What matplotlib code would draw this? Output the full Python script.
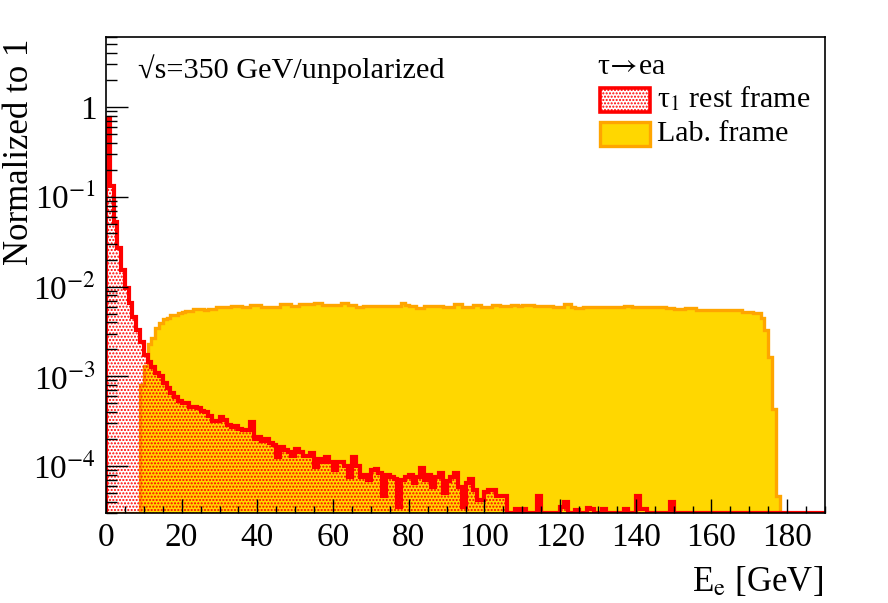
import numpy as np
import matplotlib
matplotlib.use('Agg')
import matplotlib.pyplot as plt
from matplotlib.patches import Rectangle
from matplotlib.ticker import FixedLocator, FixedFormatter, MultipleLocator, LogLocator, NullFormatter

plt.rcParams['font.family'] = ['Liberation Serif', 'DejaVu Serif']
plt.rcParams['mathtext.fontset'] = 'stix'
plt.rcParams['hatch.linewidth'] = 1.0

# 1 GeV bins from 0 to 190
bin_edges = np.arange(0, 191, 1)

# tau_1 rest frame (normalised to 1)
rest_frame = [
    0.75, 0.133, 0.053, 0.027, 0.0153, 0.0096, 0.0065, 0.0046, 0.0033, 0.0024,
    1.75e-3, 1.45e-3, 1.28e-3, 1.1e-3, 1.0e-3, 8.5e-4, 7.4e-4, 6.5e-4, 5.9e-4, 5.3e-4,
    5.0e-4, 5.0e-4, 4.6e-4, 4.6e-4, 4.4e-4, 4.1e-4, 4.0e-4, 3.6e-4, 3.2e-4, 3.2e-4,
    3.5e-4, 3.3e-4, 2.9e-4, 2.75e-4, 2.8e-4, 2.6e-4, 2.5e-4, 2.5e-4, 3.1e-4, 2.0e-4,
    2.1e-4, 1.9e-4, 2.0e-4, 1.8e-4, 1.7e-4, 1.25e-4, 1.65e-4, 1.5e-4, 1.45e-4, 1.3e-4,
    1.55e-4, 1.45e-4, 1.3e-4, 1.3e-4, 1.4e-4, 9.8e-5, 1.2e-4, 1.1e-4, 1.25e-4, 1.1e-4,
    9.0e-5, 1.1e-4, 1.12e-4, 1.0e-4, 7.6e-5, 1.25e-4, 1.0e-4, 7.6e-5, 8.0e-5, 7.0e-5,
    9.0e-5, 9.3e-5, 8.3e-5, 4.6e-5, 8.0e-5, 7.6e-5, 7.2e-5, 3.5e-5, 7.0e-5, 7.5e-5,
    8.0e-5, 6.5e-5, 7.5e-5, 9.5e-5, 7.0e-5, 8.0e-5, 5.9e-5, 7.5e-5, 8.3e-5, 5.0e-5,
    6.8e-5, 7.5e-5, 8.3e-5, 5.9e-5, 3.5e-5, 6.5e-5, 7.1e-5, 5.4e-5, 4.2e-5, 4.2e-5,
    5.2e-5, 5.4e-5, 5.4e-5, 4.6e-5, 4.6e-5, 4.6e-5, 0, 0, 3.3e-5, 0,
    3.3e-5, 0, 0, 0, 4.6e-5, 0, 0, 0, 0, 0,
    3.5e-5, 4.0e-5, 0, 0, 3.2e-5, 0, 0, 3.4e-5, 3.3e-5, 0,
    0, 3.3e-5, 0, 0, 0, 0, 0, 3.3e-5, 0, 0,
    4.6e-5, 3.3e-5, 3.3e-5, 0, 0, 0, 0, 0, 0, 4.0e-5,
    0, 0, 0, 0, 0, 0, 0, 0, 0, 0,
    0, 0, 0, 0, 0, 0, 0, 0, 0, 0,
    0, 0, 0, 0, 0, 0, 0, 0, 0, 0,
    0, 0, 0, 0, 0, 0, 0, 0, 0, 0,
]

# Lab. frame, in units of 1e-3
lab_frame_e3 = [
    0, 0, 0, 0, 0, 0, 0, 0, 0, 0.8,
    1.3, 2.3, 2.7, 3.45, 3.9, 4.3, 4.5, 4.8, 4.85, 5.05,
    5.2, 5.35, 5.4, 5.7, 5.7, 5.6, 5.55, 5.6, 5.65, 5.9,
    5.95, 6.0, 5.95, 6.05, 6.1, 6.1, 5.98, 5.98, 6.25, 6.25,
    6.25, 5.98, 5.98, 5.98, 5.98, 5.98, 6.41, 6.41, 6.41, 6.09,
    6.09, 6.33, 6.33, 6.33, 6.33, 6.53, 6.53, 6.25, 6.25, 6.25,
    6.25, 6.25, 6.53, 6.53, 6.25, 6.25, 5.98, 5.98, 6.09, 6.09,
    6.09, 6.12, 6.05, 6.09, 6.1, 6.09, 6.09, 6.15, 6.64, 6.3,
    6.09, 6.09, 5.83, 5.83, 6.09, 6.09, 6.1, 6.05, 6.09, 5.98,
    5.98, 5.98, 6.41, 6.41, 5.98, 5.98, 5.98, 6.25, 6.25, 5.98,
    5.98, 5.98, 6.25, 6.25, 6.09, 6.09, 6.09, 6.2, 6.2, 6.15,
    6.2, 6.2, 6.2, 6.09, 6.09, 6.09, 6.09, 6.09, 5.98, 5.98,
    5.98, 6.41, 6.41, 5.98, 5.76, 5.76, 5.98, 5.98, 5.98, 5.98,
    5.89, 5.98, 5.98, 5.98, 5.98, 5.98, 5.98, 6.09, 6.09, 5.89,
    5.89, 5.98, 5.98, 5.98, 5.98, 5.98, 5.98, 5.98, 5.76, 5.76,
    5.6, 5.6, 5.6, 5.76, 5.76, 5.76, 5.54, 5.54, 5.54, 5.54,
    5.54, 5.54, 5.54, 5.54, 5.54, 5.54, 5.45, 5.45, 5.22, 5.22,
    5.22, 5.05, 5.05, 4.5, 3.3, 1.65, 0.43, 0.046, 0, 0,
    0, 0, 0, 0, 0, 0, 0, 0, 0, 0,
]

ytick_vals = [1e-4, 1e-3, 1e-2, 1e-1, 1]
ytick_labels = ['10$^{-4}$', '10$^{-3}$', '10$^{-2}$', '10$^{-1}$', '1']
xtick_vals = [0, 20, 40, 60, 80, 100, 120, 140, 160, 180]

YMIN, YMAX = 3.0e-5, 6.0
RED = '#ff0000'
GOLD = '#ffd700'
ORANGE = '#ffa500'

rest = np.maximum(np.array(rest_frame), YMIN)
lab = np.maximum(np.array(lab_frame_e3) * 1e-3, YMIN)

fig = plt.figure(figsize=(8.88, 6.03), dpi=100)
ax = fig.add_axes([106 / 888, 1 - 513 / 603, 719 / 888, 475.7 / 603])
ax.set_yscale('log')

# lab frame: filled gold with orange outline
ax.stairs(lab, bin_edges, baseline=YMIN, fill=True, facecolor=GOLD,
          edgecolor='none', linewidth=0, zorder=1.0)
ax.stairs(lab, bin_edges, baseline=YMIN, color=ORANGE, linewidth=2.4, zorder=1.1)
# rest frame: red dotted hatch and thick red line
ax.stairs(rest, bin_edges, baseline=YMIN, fill=True, facecolor='none',
          edgecolor=RED, hatch='.....', linewidth=0, zorder=1.2)
ax.stairs(rest, bin_edges, baseline=YMIN, color=RED, linewidth=3.0, zorder=1.3)

ax.set_xlim(0, 190)
ax.set_ylim(YMIN, YMAX)

ax.xaxis.set_major_locator(FixedLocator(xtick_vals))
ax.xaxis.set_minor_locator(MultipleLocator(5))
ax.yaxis.set_major_locator(FixedLocator(ytick_vals))
ax.yaxis.set_major_formatter(FixedFormatter(ytick_labels))
ax.yaxis.set_minor_locator(LogLocator(base=10, subs=np.arange(2, 10)))
ax.yaxis.set_minor_formatter(NullFormatter())

ax.tick_params(axis='both', which='both', direction='in', top=False, right=False,
               width=1.0, labelsize=24, colors='black')
ax.tick_params(axis='x', which='major', length=10.3, pad=7)
ax.tick_params(axis='x', which='minor', length=5.1)
ax.tick_params(axis='y', which='major', length=15.5, pad=7)
ax.tick_params(axis='y', which='minor', length=7.8)
for sp in ax.spines.values():
    sp.set_linewidth(1.2)
    sp.set_color('black')

# axis titles (ROOT style, aligned to the axis ends)
fig.text(823 / 888, 1 - 591 / 603, 'E$_\\mathrm{e}$ [GeV]', fontsize=25,
         ha='right', va='baseline')
fig.text(3 / 888, 1 - 39 / 603, 'Normalized to 1', fontsize=25, rotation=90,
         ha='left', va='top')

fig.text(138 / 888, 1 - 78 / 603, '√s=350 GeV/unpolarized',
         fontsize=21.8, ha='left', va='baseline')

# legend
fig.text(597 / 888, 1 - 74 / 603, 'τ$\\!\\rightarrow\\!$ea', fontsize=21.5,
         ha='left', va='baseline')
box_w, box_h = 50 / 888, 24 / 603
r1 = Rectangle((600 / 888, 1 - 112 / 603), box_w, box_h, transform=fig.transFigure,
               facecolor='white', edgecolor=RED, hatch='.....', linewidth=2.6)
r2 = Rectangle((600 / 888, 1 - 146 / 603), box_w, box_h, transform=fig.transFigure,
               facecolor=GOLD, edgecolor=ORANGE, linewidth=2.4)
fig.patches.extend([r1, r2])
fig.text(657 / 888, 1 - 107 / 603, 'τ$_1$ rest frame', fontsize=21.6, ha='left', va='baseline')
fig.text(657 / 888, 1 - 141 / 603, 'Lab. frame', fontsize=21.6, ha='left', va='baseline')

fig.savefig('out.png', dpi=100)
